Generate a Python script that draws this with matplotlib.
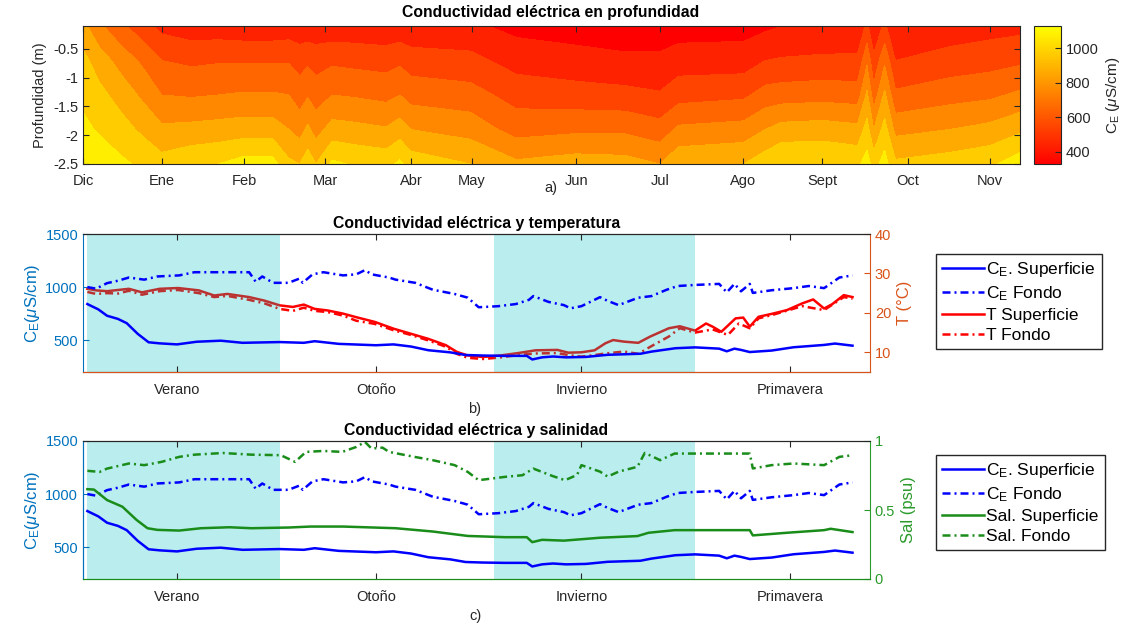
import numpy as np
import matplotlib
matplotlib.use("Agg")
import matplotlib.pyplot as plt
from matplotlib.colors import Normalize
from matplotlib.cm import ScalarMappable

plt.rcParams['font.family'] = ['Liberation Sans', 'DejaVu Sans']
plt.rcParams['mathtext.fontset'] = 'custom'
plt.rcParams['mathtext.rm'] = 'Liberation Sans'
plt.rcParams['mathtext.it'] = 'Liberation Sans:italic'
plt.rcParams['font.size'] = 10.5

# ---------------- datos: perfil de conductividad (panel a) ----------------
meses = ['Dic', 'Ene', 'Feb', 'Mar', 'Abr', 'May', 'Jun', 'Jul', 'Ago', 'Sept', 'Oct', 'Nov']
meses_dia = [0, 29.2, 59.5, 89.4, 121.1, 143.6, 182.1, 213.1, 243.7, 272.9, 304.7, 334.9]

prof = [-0.1, -0.7, -1.3, -1.9, -2.5]
perfil_dias = [0, 6, 14, 22, 29, 40, 50, 59, 70, 76, 80, 83, 86, 92, 100, 112, 117, 121,
               143, 160, 182, 200, 213, 220, 244, 252, 258, 273, 286, 289.5, 292, 296,
               300, 320, 335, 346]
# una fila por fecha: valores de C_E en cada profundidad (superficie -> fondo)
perfil_ce = [
    [830, 930, 980, 1020, 1060],
    [720, 850, 930, 990, 1050],
    [620, 760, 860, 940, 1020],
    [540, 680, 780, 880, 980],
    [470, 600, 700, 820, 940],
    [440, 580, 690, 830, 980],
    [440, 590, 700, 840, 1000],
    [430, 590, 710, 850, 1040],
    [430, 590, 710, 850, 1040],
    [440, 590, 700, 800, 920],
    [430, 560, 650, 760, 900],
    [430, 580, 690, 820, 960],
    [430, 560, 650, 760, 900],
    [430, 580, 700, 840, 1020],
    [430, 570, 690, 830, 990],
    [420, 560, 670, 810, 970],
    [430, 580, 700, 850, 1020],
    [420, 550, 660, 800, 960],
    [420, 530, 640, 760, 900],
    [370, 460, 560, 660, 820],
    [350, 440, 540, 680, 850],
    [340, 420, 530, 680, 840],
    [340, 420, 510, 640, 800],
    [350, 450, 560, 720, 880],
    [360, 450, 580, 740, 900],
    [380, 500, 640, 800, 960],
    [400, 510, 650, 840, 1000],
    [410, 520, 660, 850, 1000],
    [420, 520, 650, 830, 980],
    [520, 680, 820, 940, 1040],
    [420, 520, 640, 800, 960],
    [520, 680, 820, 940, 1040],
    [400, 500, 620, 770, 920],
    [440, 540, 660, 800, 950],
    [460, 560, 680, 830, 980],
    [470, 580, 720, 880, 1060],
]

# ---------------- datos: series temporales (paneles b y c) ----------------
estaciones = ['Verano', 'Otoño', 'Invierno', 'Primavera']
estaciones_dia = [43, 134, 228, 323.5]
verano = (2, 90)
invierno = (188, 280)

ce_sup_dias = [2, 7, 11, 16, 20, 25, 30, 35, 43, 52, 63, 73, 90, 101, 106, 117, 134, 142,
               150, 158, 168, 175, 183, 193, 203, 205.5, 210, 215, 221, 230, 240, 255, 260,
               271, 280, 291, 294.5, 298, 301, 305, 315, 325, 339, 344, 352]
ce_sup = [840, 790, 730, 700, 660, 560, 480, 470, 460, 485, 495, 475, 482, 475, 490, 465,
          452, 460, 440, 405, 385, 360, 355, 352, 352, 318, 338, 346, 338, 342, 362, 372,
          392, 424, 432, 420, 395, 420, 408, 388, 402, 433, 455, 468, 448]

ce_fon_dias = [2, 6, 11, 16, 21, 28, 34, 44, 51, 61, 71, 76, 79, 82, 87, 94, 99, 100.5,
               105, 110, 119, 125, 129, 132, 140, 143, 152, 160, 170, 176, 181, 190, 198,
               204, 206, 213, 220, 223, 228, 236.5, 240, 245, 254, 260, 267, 272, 280, 291,
               294.5, 298, 301, 305, 306.4, 315, 325, 332, 339, 346, 352]
ce_fon = [1000, 985, 1037, 1060, 1090, 1070, 1100, 1110, 1140, 1140, 1140, 1140, 1050,
          1100, 1040, 1040, 1080, 1040, 1120, 1140, 1110, 1120, 1160, 1120, 1090, 1070,
          1040, 975, 935, 900, 810, 820, 840, 880, 915, 860, 830, 800, 820, 905, 870, 830,
          900, 915, 975, 1010, 1020, 1030, 950, 1030, 960, 1030, 945, 970, 990, 1010, 990,
          1090, 1110]

t_sup_dias = [2, 6, 11, 16, 21, 27, 35, 43.5, 53, 60, 66, 76, 83, 90, 96, 101, 106, 112,
              119, 125, 133.5, 142, 150, 158, 166, 171, 176, 183, 191, 199, 207, 217, 222,
              228, 234, 239, 242.5, 247.5, 254, 259.5, 268, 273, 280, 285, 288, 292, 298.5,
              302, 305, 309, 315.5, 322, 329, 334, 339, 342.7, 348, 352]
t_sup = [26.1, 25.7, 25.5, 25.8, 26.1, 25.2, 26.1, 26.3, 25.7, 24.4, 24.8, 24.0, 23.1,
         21.9, 21.5, 22.1, 21.0, 20.6, 19.8, 18.9, 17.7, 16.0, 14.7, 13.4, 11.8, 10.1, 9.2,
         8.8, 9.2, 9.8, 10.5, 10.6, 9.9, 10.0, 10.5, 12.3, 13.1, 12.7, 12.4, 14.0, 16.1,
         16.6, 15.5, 17.3, 16.5, 15.2, 18.6, 18.8, 16.5, 19.0, 19.8, 20.7, 22.4, 23.4, 21.1,
         22.2, 24.5, 24.0]

t_fon_dias = [2, 6, 11, 16, 21, 27, 35, 43.5, 53, 60, 66, 76, 83, 90, 96, 101, 106, 112,
              119, 125, 133.5, 142, 150, 158, 166, 171, 176, 183, 191, 199, 207, 217, 222,
              228, 234, 239, 247.5, 254, 259.5, 268, 273, 280, 288, 295, 300, 305, 309,
              315.5, 329, 339, 348, 352]
t_fon = [25.3, 24.8, 25.0, 24.9, 25.6, 24.6, 25.5, 25.8, 25.0, 24.0, 24.3, 23.3, 22.4,
         21.0, 20.5, 21.3, 20.5, 20.2, 19.3, 18.0, 17.2, 15.6, 14.4, 13.0, 11.4, 9.6, 8.6,
         8.3, 8.7, 9.3, 9.7, 9.8, 9.3, 8.9, 9.3, 9.7, 10.2, 9.6, 11.4, 14.0, 16.1, 15.0,
         15.8, 14.4, 17.3, 16.1, 18.6, 19.5, 21.7, 20.7, 24.0, 23.6]

sal_sup_dias = [2, 5, 11, 18, 24.5, 29.5, 34, 44, 54, 67, 77, 94, 104, 119, 143, 160, 176,
                193, 203, 205.5, 210, 220, 236.5, 253.6, 258.7, 270.6, 280, 305, 306.4, 322,
                339, 342, 352]
sal_sup = [0.651, 0.648, 0.572, 0.524, 0.428, 0.368, 0.356, 0.351, 0.368, 0.375, 0.368,
           0.373, 0.38, 0.38, 0.368, 0.344, 0.312, 0.303, 0.303, 0.267, 0.284, 0.278,
           0.299, 0.311, 0.335, 0.354, 0.354, 0.354, 0.316, 0.335, 0.354, 0.364, 0.34]

sal_fon_dias = [2, 7.6, 11, 21, 28, 36, 44, 51, 64, 77, 90.5, 97, 102, 110, 118.6, 125, 129,
                132, 137, 140, 151.6, 160, 170, 176, 181, 193, 201, 206, 215, 220.5, 226,
                228, 236.5, 240, 245, 253.6, 257, 264, 270.6, 280, 305, 306.4, 315, 325,
                339, 346, 352]
sal_fon = [0.784, 0.776, 0.8, 0.837, 0.825, 0.849, 0.885, 0.901, 0.913, 0.901, 0.897,
           0.849, 0.921, 0.928, 0.921, 0.957, 0.993, 0.945, 0.952, 0.921, 0.885, 0.861,
           0.825, 0.776, 0.716, 0.74, 0.752, 0.8, 0.745, 0.716, 0.754, 0.825, 0.778, 0.742,
           0.778, 0.813, 0.914, 0.861, 0.909, 0.909, 0.909, 0.801, 0.825, 0.837, 0.825,
           0.885, 0.897]

# ---------------- estilos ----------------
AZUL_EJE = '#0072BD'
NARANJA = '#D95319'
VERDE = '#1a8c1a'
VERDE_EJE = '#2a9a2a'
GRIS = '#262626'
CIAN = (0.0, 0.75, 0.75)
DASHDOT = (0, (3.2, 1.6, 0.8, 1.6))
LW = 1.8
TITULO = 11.3

fig = plt.figure(figsize=(11.39, 6.28), dpi=100)

# ---------------- a) conductividad en profundidad ----------------
ax_a = fig.add_axes([83 / 1139, 1 - 164 / 628, 937 / 1139, 138 / 628])
Z = np.array(perfil_ce).T
niveles = np.arange(300, 1200, 100)
ax_a.contourf(perfil_dias, prof, Z, levels=niveles, cmap='autumn', vmin=350, vmax=1100)
ax_a.set_xlim(0, 346)
ax_a.set_ylim(-2.5, -0.1)
ax_a.set_xticks(meses_dia)
ax_a.set_xticklabels(meses)
ax_a.set_yticks([-2.5, -2, -1.5, -1, -0.5])
ax_a.set_yticklabels(['-2.5', '-2', '-1.5', '-1', '-0.5'])
ax_a.tick_params(direction='in', top=True, right=True, colors=GRIS, labelsize=10.5, length=4)
ax_a.tick_params(axis='x', pad=7)
for s in ax_a.spines.values():
    s.set_color(GRIS)
ax_a.set_ylabel('Profundidad (m)', color=GRIS)
fig.text(551 / 1139, 1 - 13 / 628, 'Conductividad eléctrica en profundidad',
         ha='center', va='center', fontweight='bold', fontsize=TITULO)
fig.text(551 / 1139, 1 - 188 / 628, 'a)', ha='center', va='center', color=GRIS)

cax = fig.add_axes([1034 / 1139, 1 - 164 / 628, 27 / 1139, 138 / 628])
cb = fig.colorbar(ScalarMappable(norm=Normalize(330, 1130), cmap='autumn'), cax=cax)
cb.set_ticks([400, 600, 800, 1000])
cb.ax.tick_params(direction='in', colors=GRIS, labelsize=10.5, length=4)
cb.outline.set_edgecolor(GRIS)
cb.set_label(r'C$_\mathrm{E}$ ($\mu$S/cm)', color=GRIS, fontsize=11)


def ejes_estaciones(ax, color_inf):
    ax.set_xlim(0, 360)
    ax.set_xticks(estaciones_dia)
    ax.set_xticklabels(estaciones)
    ax.tick_params(axis='x', direction='in', top=True, colors=GRIS, labelsize=10.5,
                   length=4, pad=8)
    ax.set_ylim(200, 1500)
    ax.set_yticks([500, 1000, 1500])
    ax.tick_params(axis='y', direction='in', colors=AZUL_EJE, labelsize=10.5, length=4)
    ax.set_ylabel(r'C$_\mathrm{E}$($\mu$S/cm)', color=AZUL_EJE, fontsize=12, labelpad=2)
    ax.spines['left'].set_color(AZUL_EJE)
    ax.spines['top'].set_color(GRIS)
    ax.spines['bottom'].set_color(color_inf)
    ax.spines['right'].set_visible(False)


def leyenda(handles, labels, y_top):
    fig.legend(handles, labels, loc='upper left',
               bbox_to_anchor=(936 / 1139, 1 - y_top / 628),
               fancybox=False, framealpha=1, edgecolor=GRIS, fontsize=12.5,
               handlelength=2.4, handletextpad=0.15, labelspacing=0.28, borderpad=0.35,
               borderaxespad=0)


# ---------------- b) conductividad y temperatura ----------------
ax_b = fig.add_axes([83 / 1139, 1 - 372 / 628, 787 / 1139, 138 / 628])
ax_bt = ax_b.twinx()
lt1, = ax_bt.plot(t_sup_dias, t_sup, color='red', lw=LW, zorder=1)
lt2, = ax_bt.plot(t_fon_dias, t_fon, color='red', lw=LW, ls=DASHDOT, zorder=1)
for ini, fin in (verano, invierno):
    ax_bt.axvspan(ini, fin, color=CIAN, alpha=0.27, lw=0, zorder=2)
ax_bt.set_ylim(5, 40)
ax_bt.set_yticks([10, 20, 30, 40])
ax_bt.tick_params(axis='y', direction='in', colors=NARANJA, labelsize=10.5, length=4)
ax_bt.set_ylabel('T (°C)', color=NARANJA, fontsize=12)
ax_bt.spines['right'].set_color(NARANJA)
ax_bt.spines['left'].set_visible(False)

ax_b.set_zorder(ax_bt.get_zorder() + 1)
ax_b.patch.set_visible(False)
lb1, = ax_b.plot(ce_sup_dias, ce_sup, color='blue', lw=LW)
lb2, = ax_b.plot(ce_fon_dias, ce_fon, color='blue', lw=LW, ls=DASHDOT)
ejes_estaciones(ax_b, NARANJA)
ax_b.set_title('Conductividad eléctrica y temperatura', fontweight='bold',
               fontsize=TITULO, pad=4)
fig.text(475 / 1139, 1 - 409 / 628, 'b)', ha='center', va='center', color=GRIS)
leyenda([lb1, lb2, lt1, lt2],
        [r'C$_\mathrm{E}$. Superficie', r'C$_\mathrm{E}$ Fondo', 'T Superficie', 'T Fondo'],
        254)

# ---------------- c) conductividad y salinidad ----------------
ax_c = fig.add_axes([83 / 1139, 1 - 579 / 628, 787 / 1139, 138 / 628])
for ini, fin in (verano, invierno):
    ax_c.axvspan(ini, fin, color=CIAN, alpha=0.27, lw=0, zorder=0)
lc1, = ax_c.plot(ce_sup_dias, ce_sup, color='blue', lw=LW)
lc2, = ax_c.plot(ce_fon_dias, ce_fon, color='blue', lw=LW, ls=DASHDOT)
ejes_estaciones(ax_c, VERDE)
ax_c.set_title('Conductividad eléctrica y salinidad', fontweight='bold',
               fontsize=TITULO, pad=4)

ax_ct = ax_c.twinx()
ls1, = ax_ct.plot(sal_sup_dias, sal_sup, color=VERDE, lw=LW)
ls2, = ax_ct.plot(sal_fon_dias, sal_fon, color=VERDE, lw=LW, ls=DASHDOT)
ax_ct.set_ylim(0, 1)
ax_ct.set_yticks([0, 0.5, 1])
ax_ct.set_yticklabels(['0', '0.5', '1'])
ax_ct.tick_params(axis='y', direction='in', colors=VERDE_EJE, labelsize=10.5, length=4)
ax_ct.set_ylabel('Sal (psu)', color=VERDE_EJE, fontsize=12)
ax_ct.spines['right'].set_color(VERDE_EJE)
ax_ct.spines['left'].set_color(AZUL_EJE)
ax_ct.spines['bottom'].set_color(VERDE)
ax_ct.spines['top'].set_color(GRIS)
fig.text(475 / 1139, 1 - 616 / 628, 'c)', ha='center', va='center', color=GRIS)
leyenda([lc1, lc2, ls1, ls2],
        [r'C$_\mathrm{E}$. Superficie', r'C$_\mathrm{E}$ Fondo', 'Sal. Superficie',
         'Sal. Fondo'],
        455)

fig.savefig('out.png', dpi=100)
